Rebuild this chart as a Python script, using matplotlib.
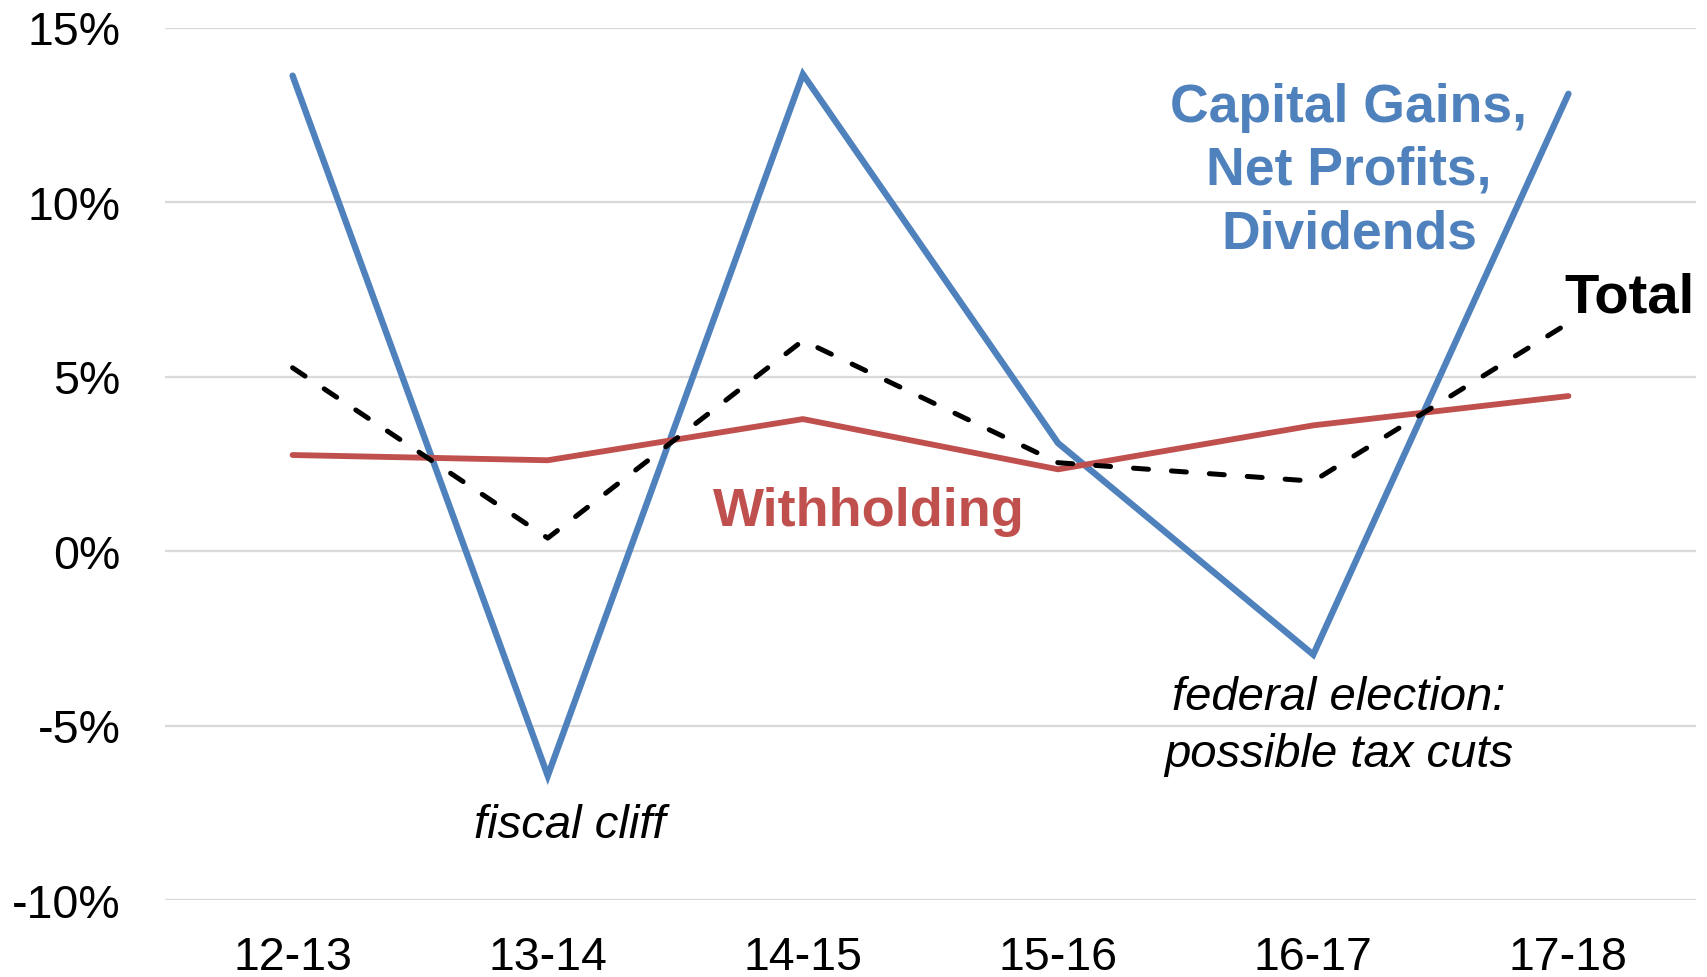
import matplotlib
matplotlib.use("Agg")
import matplotlib.pyplot as plt

categories = ["12-13", "13-14", "14-15", "15-16", "16-17", "17-18"]
capital_gains = [13.62, -6.44, 13.66, 3.09, -2.97, 13.1]
withholding = [2.75, 2.6, 3.78, 2.34, 3.6, 4.44]
total = [5.25, 0.37, 6.03, 2.53, 2.0, 6.53]
yticks = [-10, -5, 0, 5, 10, 15]
ytick_labels = ["-10%", "-5%", "0%", "5%", "10%", "15%"]

BLUE = "#4F81BD"
RED = "#C0504D"
FONT = "Liberation Sans"

plt.rcParams["font.family"] = [FONT, "DejaVu Sans"]

fig = plt.figure(figsize=(17.08, 9.78), dpi=100)
ax = fig.add_axes([165 / 1708, 77 / 978, 1531 / 1708, (901 - 28.5) / 978])

x = list(range(len(categories)))
ax.plot(x, capital_gains, color=BLUE, lw=4.6, solid_capstyle="round",
        solid_joinstyle="miter", zorder=3)
ax.plot(x, withholding, color=RED, lw=4.2, solid_capstyle="round", zorder=3)
ax.plot(x, total, color="black", lw=3.6, dashes=(3.0, 4.6),
        dash_capstyle="round", zorder=4)

ax.set_xlim(-0.5, len(categories) - 0.5)
ax.set_ylim(-10, 15)
ax.set_yticks(yticks)
ax.set_yticklabels(ytick_labels)
ax.set_xticks(x)
ax.set_xticklabels(categories)
ax.tick_params(axis="both", length=0, labelsize=33.5, colors="black")
ax.tick_params(axis="y", pad=32)
ax.tick_params(axis="x", pad=25)
ax.grid(axis="y", color="#D9D9D9", lw=1.6, zorder=0)
ax.set_axisbelow(True)
for s in ax.spines.values():
    s.set_visible(False)

# series labels
for txt, yv in [("Capital Gains,", 12.33), ("Net Profits,", 10.52), ("Dividends", 8.71)]:
    ax.text(4.14, yv, txt, color=BLUE, fontsize=38.5, fontweight="bold",
            ha="center", va="baseline")
ax.text(4.986, 6.85, "Total", color="black", fontsize=40.5, fontweight="bold",
        ha="left", va="baseline")
ax.text(2.259, 0.745, "Withholding", color=RED, fontsize=39, fontweight="bold",
        ha="center", va="baseline")

# annotations
ax.text(1.085, -8.19, "fiscal cliff", fontsize=34, style="italic",
        ha="center", va="baseline")
ax.text(4.10, -4.53, "federal election:", fontsize=34, style="italic",
        ha="center", va="baseline")
ax.text(4.10, -6.16, "possible tax cuts", fontsize=34, style="italic",
        ha="center", va="baseline")

fig.savefig("out.png", dpi=100)
